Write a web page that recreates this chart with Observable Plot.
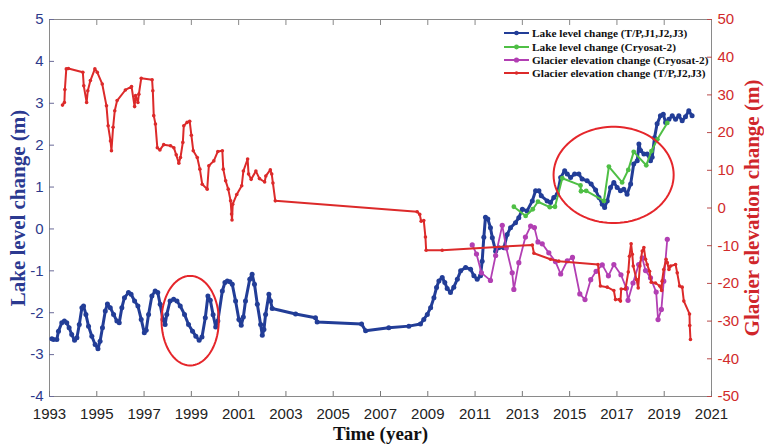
<!DOCTYPE html>
<html><head><meta charset="utf-8">
<script src="https://cdn.jsdelivr.net/npm/d3@7"></script>
<script src="https://cdn.jsdelivr.net/npm/@observablehq/plot@0.6"></script>
<style>
body{margin:0;background:#fff;}
#wrap{position:relative;width:764px;height:444px;overflow:hidden;}
#legend{position:absolute;left:503px;top:26.5px;font-family:"Liberation Serif","Times New Roman",serif;font-weight:bold;font-size:11.3px;color:#111;}
.row{height:13.4px;display:flex;align-items:center;white-space:nowrap;}
.row svg{margin-right:2px;}
</style></head><body>
<div id="wrap"><div id="chart"></div><div id="legend"></div></div>
<script>
// ---- Lake level change (T/P,J1,J2,J3), left axis, m ----
const blueYear = [1993.10,1993.17,1993.31,1993.38,1993.52,1993.63,1993.73,1993.83,1993.94,1994.06,1994.16,1994.26,1994.37,1994.44,1994.54,1994.65,1994.79,1994.93,1995.05,1995.14,1995.24,1995.36,1995.45,1995.57,1995.71,1995.85,1995.95,1996.06,1996.17,1996.34,1996.45,1996.60,1996.74,1996.88,1997.01,1997.09,1997.19,1997.33,1997.47,1997.58,1997.68,1997.80,1997.89,1997.96,1998.10,1998.25,1998.39,1998.53,1998.71,1998.88,1999.05,1999.19,1999.33,1999.45,1999.59,1999.70,1999.80,1999.92,2000.03,2000.12,2000.31,2000.42,2000.52,2000.63,2000.73,2000.87,2001.01,2001.11,2001.20,2001.29,2001.47,2001.57,2001.67,2001.79,2001.93,2002.00,2002.07,2002.14,2002.28,2002.35,2002.42,2003.41,2004.25,2004.32,2006.20,2006.37,2007.35,2008.20,2008.69,2008.83,2008.98,2009.12,2009.26,2009.37,2009.47,2009.61,2009.72,2009.82,2009.96,2010.10,2010.25,2010.39,2010.60,2010.81,2010.95,2011.09,2011.23,2011.30,2011.37,2011.44,2011.54,2011.65,2011.73,2011.87,2012.00,2012.22,2012.36,2012.50,2012.71,2012.85,2013.00,2013.20,2013.42,2013.56,2013.70,2013.80,2014.05,2014.19,2014.33,2014.48,2014.62,2014.79,2014.90,2015.04,2015.21,2015.39,2015.53,2015.74,2015.91,2016.10,2016.24,2016.38,2016.48,2016.59,2016.73,2016.87,2017.01,2017.15,2017.29,2017.43,2017.58,2017.71,2017.86,2017.93,2018.00,2018.14,2018.28,2018.42,2018.49,2018.59,2018.70,2018.84,2018.96,2019.06,2019.20,2019.34,2019.48,2019.62,2019.76,2019.90,2020.04,2020.18];
const blueLevel = [-2.62,-2.64,-2.64,-2.44,-2.24,-2.20,-2.24,-2.36,-2.52,-2.66,-2.60,-2.28,-1.88,-1.84,-2.04,-2.32,-2.56,-2.76,-2.86,-2.68,-2.36,-1.96,-1.79,-1.88,-2.04,-2.20,-2.24,-1.88,-1.64,-1.52,-1.56,-1.72,-1.84,-2.16,-2.48,-2.42,-2.04,-1.60,-1.48,-1.52,-1.80,-2.16,-2.28,-2.04,-1.72,-1.68,-1.72,-1.84,-2.04,-2.28,-2.44,-2.56,-2.66,-2.58,-2.12,-1.60,-1.70,-2.05,-2.34,-2.20,-1.48,-1.28,-1.24,-1.26,-1.32,-1.72,-2.16,-2.30,-2.10,-1.72,-1.20,-1.08,-1.32,-1.80,-2.28,-2.54,-2.40,-2.04,-1.56,-1.72,-1.90,-2.03,-2.12,-2.22,-2.27,-2.43,-2.36,-2.32,-2.27,-2.16,-2.04,-1.88,-1.64,-1.40,-1.24,-1.16,-1.28,-1.42,-1.52,-1.39,-1.20,-1.00,-0.92,-0.96,-1.12,-1.20,-1.12,-0.77,-0.20,0.28,0.24,0.03,-0.21,-0.53,-0.45,-0.45,-0.13,0.03,0.15,0.27,0.47,0.43,0.67,0.91,0.91,0.79,0.67,0.63,0.75,0.83,1.23,1.39,1.31,1.23,1.31,1.31,1.19,1.15,1.07,0.93,0.75,0.59,0.51,0.67,0.99,1.11,0.99,0.91,0.95,0.83,1.07,1.55,1.63,2.03,1.87,1.79,1.79,1.63,1.71,2.18,2.51,2.70,2.74,2.54,2.62,2.70,2.62,2.70,2.58,2.68,2.82,2.70];

// ---- Lake level change (Cryosat-2), left axis, m ----
const greenYear = [2012.64,2013.14,2013.44,2013.66,2014.16,2014.38,2014.69,2015.46,2015.48,2015.70,2016.45,2016.66,2017.22,2017.48,2017.71,2018.24,2018.46,2018.71,2019.13];
const greenLevel = [0.53,0.31,0.47,0.65,0.52,0.53,1.21,1.04,0.90,0.91,0.67,1.49,1.11,1.41,1.84,1.52,1.86,2.14,2.53];

// ---- Glacier elevation change (Cryosat-2), right axis, m ----
const purpleYear = [2010.88,2011.06,2011.27,2011.65,2011.87,2012.15,2012.32,2012.57,2012.64,2012.85,2013.13,2013.35,2013.51,2013.66,2013.84,2014.12,2014.40,2014.62,2014.90,2015.12,2015.43,2015.65,2015.89,2016.12,2016.38,2016.64,2016.87,2017.17,2017.40,2017.47,2017.68,2017.92,2018.07,2018.21,2018.42,2018.66,2018.74,2018.88,2018.98,2019.13];
const purpleElev = [-9.8,-12.2,-17.2,-19.2,-12.6,-4.6,-10.6,-17.2,-21.6,-14.5,-7.7,-4.8,-5.2,-9.0,-9.5,-11.9,-14.2,-17.5,-14.0,-13.1,-22.8,-24.3,-19.0,-16.8,-15.1,-18.0,-15.0,-17.7,-21.3,-24.5,-19.9,-15.0,-13.2,-16.6,-18.5,-22.3,-29.6,-26.9,-19.4,-8.3];

// ---- Glacier elevation change (T/P,J2,J3), right axis, m ----
const redYear = [1993.55,1993.63,1993.65,1993.71,1993.80,1994.41,1994.45,1994.57,1994.62,1994.73,1994.92,1995.02,1995.23,1995.41,1995.48,1995.58,1995.62,1995.69,1995.76,1995.86,1996.21,1996.47,1996.60,1996.64,1996.74,1996.78,1996.88,1997.34,1997.37,1997.41,1997.48,1997.56,1997.67,1997.83,1998.12,1998.26,1998.36,1998.47,1998.54,1998.64,1998.68,1998.82,1998.93,1999.00,1999.08,1999.25,1999.36,1999.46,1999.67,1999.74,1999.95,2000.12,2000.31,2000.35,2000.45,2000.56,2000.66,2000.70,2000.72,2000.75,2000.92,2001.13,2001.20,2001.38,2001.42,2001.53,2001.73,2001.88,2002.10,2002.15,2002.34,2002.40,2002.45,2002.55,2008.55,2008.66,2008.72,2008.83,2008.90,2008.93,2009.61,2013.42,2013.49,2014.19,2014.54,2016.20,2016.30,2016.59,2016.87,2016.94,2017.10,2017.15,2017.18,2017.36,2017.48,2017.53,2017.60,2017.65,2017.69,2017.83,2017.90,2017.97,2018.07,2018.14,2018.21,2018.28,2018.38,2018.45,2018.63,2018.81,2018.89,2018.91,2018.98,2019.08,2019.13,2019.20,2019.27,2019.48,2019.55,2019.65,2019.76,2019.83,2020.07,2020.08,2020.11];
const redElev = [27.3,28.0,31.4,36.9,37.0,36.0,32.4,28.0,31.1,33.8,36.9,36.0,32.9,27.1,21.8,17.8,15.2,21.4,25.8,28.5,31.3,32.2,26.9,29.8,28.0,30.2,34.4,34.0,31.1,24.5,22.3,16.0,15.4,16.8,16.5,16.0,14.1,11.9,13.4,17.4,21.8,22.7,23.0,19.3,15.2,13.4,10.3,6.3,5.0,11.2,12.5,15.0,15.2,10.3,7.2,5.0,1.9,-1.6,-3.2,1.0,3.6,5.9,9.8,13.0,9.0,7.6,9.8,7.8,6.9,8.5,10.1,9.0,6.6,1.9,-1.0,-1.7,-3.5,-3.3,-7.7,-11.2,-11.2,-9.8,-12.0,-13.6,-14.1,-15.0,-20.7,-21.0,-21.9,-24.3,-24.3,-24.7,-21.5,-21.5,-17.0,-12.8,-9.5,-12.3,-15.4,-19.0,-21.2,-15.4,-11.4,-10.5,-13.6,-15.0,-16.8,-19.7,-19.9,-20.7,-21.9,-19.4,-16.3,-13.6,-14.5,-16.3,-15.4,-15.0,-17.2,-20.7,-21.0,-24.7,-28.1,-31.2,-34.9];

// ---- axes ----
const xTicks = [1993,1995,1997,1999,2001,2003,2005,2007,2009,2011,2013,2015,2017,2019,2021];
const leftTicks = [-4,-3,-2,-1,0,1,2,3,4,5];
const rightTicks = [-50,-40,-30,-20,-10,0,10,20,30,40,50];

// ---- red ellipse annotations (centre year, centre lake level, half-width in years, half-height in m) ----
const ellipseCx = [1998.95, 2016.86];
const ellipseCy = [-2.19, 1.29];
const ellipseRx = [1.21, 2.54];
const ellipseRy = [1.07, 1.15];

const legendLabels = ["Lake level change (T/P,J1,J2,J3)","Lake level change (Cryosat-2)","Glacier elevation change (Cryosat-2)","Glacier elevation change (T/P,J2,J3)"];

const cBlue = "#223d97", cGreen = "#4fbf45", cPurple = "#b23fb3", cRed = "#dc2a2a";
const cLeftAxis = "#2d3a8c", cRightAxis = "#d12b2b";

// right axis (-50..50) mapped onto the left scale (-4..5)
const toLeft = g => -4 + (g + 50) * 9 / 100;
const fromLeft = v => Math.round((v + 4) * 100 / 9 - 50);

const blue = blueYear.map((x, i) => ({x, y: blueLevel[i]}));
const green = greenYear.map((x, i) => ({x, y: greenLevel[i]}));
const purple = purpleYear.map((x, i) => ({x, y: toLeft(purpleElev[i])}));
const red = redYear.map((x, i) => ({x, y: toLeft(redElev[i])}));

const ellipses = [];
ellipseCx.forEach((cx, k) => {
  for (let a = 0; a <= 360; a += 4) {
    const t = a * Math.PI / 180;
    ellipses.push({k, x: cx + ellipseRx[k] * Math.cos(t), y: ellipseCy[k] + ellipseRy[k] * Math.sin(t)});
  }
});

const serif = '"Liberation Serif","Times New Roman",serif';

const chart = Plot.plot({
  width: 764, height: 444,
  marginLeft: 49, marginRight: 53, marginTop: 19, marginBottom: 48,
  x: {domain: [1993, 2021]},
  y: {domain: [-4, 5]},
  style: {fontFamily: '"Liberation Sans", Arial, sans-serif', fontSize: "15px", background: "#fff", overflow: "visible"},
  marks: [
    Plot.frame({stroke: "#8a8a8a", strokeWidth: 1}),
    Plot.axisX(xTicks, {anchor: "bottom", tickSize: -5, tickPadding: 17, tickFormat: d => String(d), stroke: "#777", fill: "#222", label: null, line: true}),
    Plot.axisX(xTicks, {anchor: "top", tickSize: -5, tickFormat: () => "", stroke: "#888", label: null}),
    Plot.axisY(leftTicks, {anchor: "left", tickSize: -5, tickPadding: 11, tickFormat: d => String(d), stroke: "#6a6a98", fill: cLeftAxis, label: null, line: true}),
    Plot.axisY(rightTicks.map(toLeft), {anchor: "right", tickSize: -5, tickPadding: 11, tickFormat: d => String(fromLeft(d)), stroke: "#b84a4a", fill: cRightAxis, label: null, line: true}),
    Plot.line(blue, {x: "x", y: "y", stroke: cBlue, strokeWidth: 3}),
    Plot.dot(blue, {x: "x", y: "y", r: 2.5, fill: cBlue}),
    Plot.line(green, {x: "x", y: "y", stroke: cGreen, strokeWidth: 2}),
    Plot.dot(green, {x: "x", y: "y", r: 2.4, fill: cGreen}),
    Plot.line(purple, {x: "x", y: "y", stroke: cPurple, strokeWidth: 1.8}),
    Plot.dot(purple, {x: "x", y: "y", r: 2.6, fill: cPurple}),
    Plot.line(red, {x: "x", y: "y", stroke: cRed, strokeWidth: 2}),
    Plot.dot(red, {x: "x", y: "y", r: 1.8, fill: cRed}),
    Plot.line(ellipses, {x: "x", y: "y", z: "k", stroke: "#e5262b", strokeWidth: 2, curve: "linear"}),
    Plot.text(["Lake level change (m)"], {text: d => d, frameAnchor: "left", dx: -31, rotate: -90, textAnchor: "middle", lineAnchor: "middle", fontSize: 21, fontWeight: "bold", fontFamily: serif, fill: "#2b3990"}),
    Plot.text(["Glacier elevation change (m)"], {text: d => d, frameAnchor: "right", dx: 41, rotate: -90, textAnchor: "middle", lineAnchor: "middle", fontSize: 21, fontWeight: "bold", fontFamily: serif, fill: "#d0262b"}),
    Plot.text(["Time (year)"], {text: d => d, frameAnchor: "bottom", dy: 37, textAnchor: "middle", lineAnchor: "middle", fontSize: 19, fontWeight: "bold", fontFamily: serif, fill: "#111"})
  ]
});
document.getElementById("chart").appendChild(chart);

const legendColors = [cBlue, cGreen, cPurple, cRed];
const legendR = [2.3, 2.4, 2.6, 1.8];
const leg = document.getElementById("legend");
legendLabels.forEach((lab, i) => {
  const row = document.createElement("div");
  row.className = "row";
  row.innerHTML = `<svg width="27" height="8"><line x1="1" y1="4" x2="26" y2="4" stroke="${legendColors[i]}" stroke-width="2"/><circle cx="13.5" cy="4" r="${legendR[i]}" fill="${legendColors[i]}"/></svg><span>${lab}</span>`;
  leg.appendChild(row);
});
</script>
</body></html>
